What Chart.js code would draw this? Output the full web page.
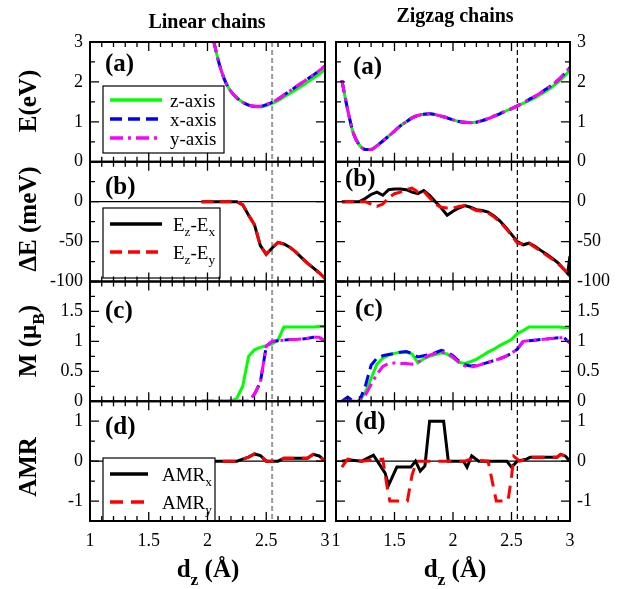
<!DOCTYPE html>
<html>
<head>
<meta charset="utf-8">
<script src="https://cdn.jsdelivr.net/npm/chart.js@4.4.1/dist/chart.umd.min.js"></script>
<style>
  html, body { margin: 0; padding: 0; background: #fff; }
  #wrap { position: relative; width: 618px; height: 589px; }
  #wrap canvas { position: absolute; left: 0; top: 0; }
</style>
</head>
<body>
<div id="wrap">
  <canvas id="linearChart" width="618" height="589"></canvas>
  <canvas id="zigzagChart" width="618" height="589"></canvas>
</div>
<script>
const SERIF = '"Liberation Serif", "DejaVu Serif", serif';

// x axis: d_z in Angstrom
const dTicks = [1, 1.5, 2, 2.5, 3];
const dMarker = 2.55;

// y axis tick labels per row
const eTicks = [0, 1, 2, 3];
const deTicks = [-100, -50, 0];
const mTicks = [0, 0.5, 1, 1.5];
const amrTicks = [-1, 0, 1];

// ---- Linear chains ----
const linE_d = [2.05, 2.1, 2.15, 2.2, 2.25, 2.3, 2.35, 2.4, 2.45, 2.5, 2.55, 2.6, 2.65, 2.7, 2.75, 2.8, 2.85, 2.9, 2.95, 3.0];
const linE_z = [3.05, 2.45, 2.02, 1.76, 1.60, 1.49, 1.42, 1.38, 1.37, 1.41, 1.46, 1.53, 1.62, 1.71, 1.80, 1.89, 1.99, 2.09, 2.19, 2.30];
const linE_x = [3.05, 2.45, 2.02, 1.76, 1.60, 1.49, 1.42, 1.39, 1.39, 1.43, 1.49, 1.57, 1.67, 1.77, 1.87, 1.97, 2.07, 2.17, 2.28, 2.40];
const linE_y = [3.05, 2.45, 2.02, 1.76, 1.60, 1.49, 1.42, 1.39, 1.39, 1.43, 1.49, 1.57, 1.67, 1.77, 1.87, 1.97, 2.07, 2.17, 2.28, 2.40];

const linD = [1.95, 2.0, 2.05, 2.1, 2.15, 2.2, 2.25, 2.3, 2.35, 2.4, 2.45, 2.5, 2.55, 2.6, 2.65, 2.7, 2.75, 2.8, 2.85, 2.9, 2.95, 3.0];
const linDE_zx = [0, 0, 0, 0, 0, 0, 0, -4, -17, -29, -55, -66, -58, -51, -53, -57, -63, -70, -77, -83, -89, -96];
const linDE_zy = [0, 0, 0, 0, 0, 0, 0, -4, -17, -29, -55, -66, -58, -51, -53, -57, -63, -70, -77, -83, -89, -96];
const linM_z = [0, 0, 0, 0, 0, 0, 0.05, 0.25, 0.75, 0.86, 0.90, 0.93, 0.96, 1.02, 1.24, 1.24, 1.24, 1.24, 1.24, 1.24, 1.25, 1.25];
const linM_x = [0, 0, 0, 0, 0, 0, 0, 0, 0, 0.12, 0.32, 0.92, 1.00, 1.01, 1.02, 1.03, 1.03, 1.04, 1.05, 1.07, 1.07, 1.00];
const linM_y = [0, 0, 0, 0, 0, 0, 0, 0, 0, 0.12, 0.32, 0.92, 1.00, 1.01, 1.02, 1.03, 1.03, 1.04, 1.05, 1.07, 1.07, 1.00];
const linAMR_x = [0, 0, 0, 0, 0, 0, 0, 0.05, 0.10, 0.18, 0.14, 0, 0, 0, 0.07, 0.07, 0.07, 0.07, 0.07, 0.17, 0.13, 0];
const linAMR_y = [0, 0, 0, 0, 0, 0, 0, 0.05, 0.10, 0.18, 0.14, 0, 0, 0, 0.07, 0.07, 0.07, 0.07, 0.07, 0.17, 0.13, 0];

// ---- Zigzag chains ----
const zigD = [1.05, 1.1, 1.15, 1.2, 1.25, 1.3, 1.35, 1.4, 1.45, 1.5, 1.55, 1.6, 1.65, 1.7, 1.75, 1.8, 1.85, 1.9, 1.95, 2.0,
              2.05, 2.1, 2.15, 2.2, 2.25, 2.3, 2.35, 2.4, 2.45, 2.5, 2.55, 2.6, 2.65, 2.7, 2.75, 2.8, 2.85, 2.9, 2.95, 3.0];
const zigE_z = [2.04, 1.30, 0.70, 0.42, 0.31, 0.31, 0.40, 0.52, 0.64, 0.77, 0.90, 1.00, 1.10, 1.16, 1.19, 1.20, 1.18, 1.14, 1.10, 1.05,
                1.01, 0.99, 0.98, 0.99, 1.03, 1.08, 1.14, 1.20, 1.27, 1.33, 1.40, 1.46, 1.53, 1.60, 1.69, 1.78, 1.88, 2.00, 2.14, 2.29];
const zigE_x = [2.04, 1.30, 0.70, 0.42, 0.31, 0.31, 0.40, 0.52, 0.64, 0.77, 0.90, 1.00, 1.10, 1.16, 1.19, 1.20, 1.18, 1.14, 1.10, 1.05,
                1.01, 0.99, 0.98, 0.99, 1.03, 1.08, 1.14, 1.20, 1.27, 1.33, 1.40, 1.48, 1.56, 1.64, 1.73, 1.83, 1.93, 2.05, 2.20, 2.36];
const zigE_y = zigE_x.slice();

const zigDE_dx = [1.05, 1.1, 1.15, 1.2, 1.25, 1.3, 1.35, 1.4, 1.45, 1.5, 1.55, 1.6, 1.65, 1.7, 1.75, 1.8, 1.85, 1.9, 1.95, 2.0,
                  2.05, 2.1, 2.15, 2.2, 2.25, 2.3, 2.35, 2.4, 2.45, 2.5, 2.55, 2.6, 2.65, 2.7, 2.75, 2.8, 2.85, 2.9, 2.95, 2.98, 3.0];
const zigDE_zx = [0, 0, 0, 0, 4, 9, 12, 8, 15, 16, 16, 15, 12, 10, 14, 8, 0, -8, -17, -12,
                  -8, -5, -7, -10, -11, -13, -18, -24, -32, -41, -50, -54, -52, -56, -61, -66, -71, -77, -85, -90, -68];
const zigDE_zy = [0, 0, 0, 0, 0, -3, -6, -3, 5, 10, 12, 15, 17, 12, 13, 5, -3, -7, -8, -8,
                  -6, -5, -8, -11, -12, -14, -19, -25, -33, -42, -52, -53, -52, -57, -62, -67, -72, -78, -85, -92];

const zigM_z = [0, 0, 0, 0, 0.15, 0.38, 0.62, 0.72, 0.77, 0.80, 0.82, 0.82, 0.79, 0.64, 0.71, 0.75, 0.78, 0.81, 0.79, 0.72,
                0.65, 0.63, 0.66, 0.70, 0.76, 0.82, 0.87, 0.93, 0.98, 1.03, 1.13, 1.18, 1.24, 1.24, 1.24, 1.24, 1.24, 1.24, 1.23, 1.23];
const zigM_x = [0, 0.07, 0, 0, 0.25, 0.60, 0.72, 0.76, 0.78, 0.80, 0.82, 0.83, 0.80, 0.74, 0.76, 0.78, 0.81, 0.85, 0.82, 0.76,
                0.67, 0.61, 0.59, 0.60, 0.62, 0.65, 0.68, 0.71, 0.75, 0.80, 0.87, 1.00, 1.01, 1.02, 1.03, 1.04, 1.05, 1.06, 1.06, 0.97];
const zigM_y = [0, 0, 0, 0, 0.10, 0.28, 0.45, 0.58, 0.63, 0.64, 0.63, 0.63, 0.62, 0.65, 0.72, 0.77, 0.80, 0.82, 0.80, 0.74,
                0.65, 0.59, 0.57, 0.59, 0.62, 0.65, 0.68, 0.71, 0.75, 0.80, 0.87, 1.00, 1.01, 1.02, 1.03, 1.04, 1.05, 1.06, 1.06, 0.97];

const zigAMR_dx = [1.05, 1.12, 1.22, 1.32, 1.38, 1.42, 1.45, 1.52, 1.64, 1.68, 1.72, 1.76, 1.8, 1.92, 1.96, 2.09, 2.12, 2.16, 2.22, 2.46, 2.5, 2.55, 2.63, 2.66, 2.89, 2.92, 2.96, 3.0];
const zigAMR_x = [0, 0.03, 0, 0.15, -0.12, -0.3, -0.6, -0.15, -0.15, 0, -0.25, -0.12, 1.0, 1.0, 0, 0, -0.15, 0.13, 0, 0, -0.15, 0, 0.05, 0.1, 0.1, 0.17, 0.13, 0];
const zigAMR_dy = [1.05, 1.1, 1.22, 1.4, 1.44, 1.46, 1.61, 1.65, 1.69, 2.1, 2.14, 2.3, 2.37, 2.47, 2.5, 2.52, 2.57, 2.63, 2.66, 2.89, 2.92, 2.96, 3.0];
const zigAMR_y = [-0.15, 0.05, 0, 0.05, -0.7, -1.0, -1.0, -0.35, 0, 0, 0.04, 0, -1.0, -1.0, -0.4, 0.12, 0, 0.05, 0.1, 0.1, 0.17, 0.13, 0];

// row scales: id, range, labelled ticks, major / minor tick steps
const rows = [
    { id: 'yE',   min: 0,    max: 3,   labels: eTicks,   major: 1,   minor: 0.5 },
    { id: 'yDE',  min: -100, max: 50,  labels: deTicks,  major: 50,  minor: 25 },
    { id: 'yM',   min: 0,    max: 2,   labels: mTicks,   major: 0.5, minor: 0.25 },
    { id: 'yAMR', min: -1.5, max: 1.5, labels: amrTicks, major: 1,   minor: 0.5 }
];

const GREEN = '#00ff00', BLUE = '#0000ff', MAGENTA = '#ff00ff', RED = '#ff0000', BLACK = '#000000';
const DASH = [12, 6], DASHDOT = [13, 5, 3, 5], AMRDASH = [13, 8];

function series(xs, ys, axis, color, dash, order, smooth) {
    return {
        data: xs.map((x, i) => ({ x: x, y: ys[i] })),
        yAxisID: axis,
        borderColor: color,
        borderWidth: 3,
        borderDash: dash || [],
        pointRadius: 0,
        fill: false,
        tension: 0,
        cubicInterpolationMode: smooth ? 'monotone' : 'default',
        order: order
    };
}

function richWidth(ctx, parts, size, bold) {
    let w = 0;
    parts.forEach(p => {
        ctx.font = (bold ? 'bold ' : '') + (p[1] ? size * 0.7 : size) + 'px ' + SERIF;
        w += ctx.measureText(p[0]).width;
    });
    return w;
}

function drawRich(ctx, parts, x, y, size, bold, center) {
    let cx = center ? x - richWidth(ctx, parts, size, bold) / 2 : x;
    ctx.textAlign = 'left';
    ctx.textBaseline = 'alphabetic';
    parts.forEach(p => {
        ctx.font = (bold ? 'bold ' : '') + (p[1] ? size * 0.7 : size) + 'px ' + SERIF;
        ctx.fillText(p[0], cx, p[1] ? y + size * 0.3 : y);
        cx += ctx.measureText(p[0]).width;
    });
}

function drawLegend(ctx, lg) {
    ctx.save();
    ctx.fillStyle = '#fff';
    ctx.fillRect(lg.box[0], lg.box[1], lg.box[2], lg.box[3]);
    ctx.strokeStyle = '#000';
    ctx.lineWidth = 1.2;
    ctx.strokeRect(lg.box[0], lg.box[1], lg.box[2], lg.box[3]);
    lg.items.forEach(it => {
        ctx.strokeStyle = it.color;
        ctx.lineWidth = 3.5;
        ctx.setLineDash(it.dash);
        ctx.beginPath();
        ctx.moveTo(lg.x0, it.y);
        ctx.lineTo(lg.x1, it.y);
        ctx.stroke();
        ctx.setLineDash([]);
        ctx.fillStyle = '#000';
        drawRich(ctx, it.parts, lg.tx, it.y + 6.5, 19, false, false);
    });
    ctx.restore();
}

function makeDecor(cfg) {
    return {
        id: 'decor',
        beforeDatasetsDraw(chart) {
            const { ctx, chartArea: a, scales } = chart;
            ctx.save();
            ctx.strokeStyle = '#000';
            ctx.lineWidth = 1.3;
            ['yDE', 'yAMR'].forEach(id => {
                const y = scales[id].getPixelForValue(0);
                ctx.beginPath();
                ctx.moveTo(a.left, y);
                ctx.lineTo(a.right, y);
                ctx.stroke();
            });
            const xm = scales.x.getPixelForValue(dMarker);
            ctx.strokeStyle = cfg.markColor;
            ctx.lineWidth = cfg.markWidth;
            ctx.setLineDash([5, 3]);
            ctx.beginPath();
            ctx.moveTo(xm, a.top);
            ctx.lineTo(xm, a.bottom);
            ctx.stroke();
            ctx.restore();
        },
        afterDatasetsDraw(chart) {
            const { ctx, chartArea: a, scales } = chart;
            ctx.save();
            cfg.legends.forEach(lg => drawLegend(ctx, lg));

            // frames with inward ticks on all four sides
            ctx.strokeStyle = '#000';
            rows.forEach(r => {
                const s = scales[r.id];
                ctx.lineWidth = 1.3;
                ctx.beginPath();
                for (let k = 0; k <= 20; k++) {
                    const px = scales.x.getPixelForValue(1 + k * 0.1);
                    const len = k % 5 === 0 ? 9 : 5;
                    ctx.moveTo(px, s.top); ctx.lineTo(px, s.top + len);
                    ctx.moveTo(px, s.bottom); ctx.lineTo(px, s.bottom - len);
                }
                const n = Math.round((r.max - r.min) / r.minor);
                for (let k = 0; k <= n; k++) {
                    const v = r.min + k * r.minor;
                    const q = v / r.major;
                    const len = Math.abs(q - Math.round(q)) < 1e-6 ? 9 : 5;
                    const py = s.getPixelForValue(v);
                    ctx.moveTo(a.left, py); ctx.lineTo(a.left + len, py);
                    ctx.moveTo(a.right, py); ctx.lineTo(a.right - len, py);
                }
                ctx.stroke();
                ctx.lineWidth = 2;
                ctx.strokeRect(a.left, s.top, a.right - a.left, s.bottom - s.top);
            });

            // panel labels
            ctx.fillStyle = '#000';
            ctx.textAlign = 'left';
            ctx.textBaseline = 'alphabetic';
            ctx.font = 'bold 25px ' + SERIF;
            cfg.panelLabels.forEach(p => ctx.fillText(p[0], p[1], p[2]));
            ctx.restore();
        },
        afterDraw(chart) {
            const { ctx } = chart;
            ctx.save();
            ctx.fillStyle = '#000';
            ctx.textAlign = 'center';
            ctx.textBaseline = 'alphabetic';
            ctx.font = 'bold 20px ' + SERIF;
            ctx.fillText(cfg.title[0], cfg.title[1], cfg.title[2]);
            drawRich(ctx, [['d'], ['z', true], [' (\u00c5)']], cfg.xTitleX, 577, 25, true, true);
            (cfg.yTitles || []).forEach(t => {
                ctx.save();
                ctx.translate(t[1], t[2]);
                ctx.rotate(-Math.PI / 2);
                drawRich(ctx, t[0], 0, 9, 25, true, true);
                ctx.restore();
            });
            ctx.restore();
        }
    };
}

function yScale(r, pos) {
    return {
        type: 'linear',
        position: pos,
        stack: 'col',
        stackWeight: 1,
        min: r.min,
        max: r.max,
        grid: { display: false, drawTicks: false },
        border: { display: false },
        afterBuildTicks: s => { s.ticks = r.labels.map(v => ({ value: v })); },
        afterFit: s => { s.width = pos === 'left' ? 90 : 48; },
        ticks: { color: '#000', padding: 7, autoSkip: false, font: { family: SERIF, size: 18 },
                 callback: v => String(v) }
    };
}

function xScale() {
    return {
        type: 'linear',
        min: 1,
        max: 3,
        grid: { display: false, drawTicks: false },
        border: { display: false },
        afterBuildTicks: s => { s.ticks = dTicks.map(v => ({ value: v })); },
        afterFit: s => { s.height = 68; },
        ticks: { color: '#000', padding: 9, autoSkip: false, maxRotation: 0, font: { family: SERIF, size: 18 },
                 callback: v => String(v) }
    };
}

function baseOptions(padding, scales) {
    return {
        responsive: false,
        animation: false,
        devicePixelRatio: 1,
        events: [],
        layout: { padding: padding },
        plugins: { legend: { display: false }, tooltip: { enabled: false }, title: { display: false } },
        scales: scales
    };
}

// Linear chains (left column)
const linearScales = { x: xScale() };
// left-stacked axes are placed top-down from the last one defined
[3, 2, 1, 0].forEach(i => { linearScales[rows[i].id] = yScale(rows[i], 'left'); });

new Chart(document.getElementById('linearChart'), {
    type: 'line',
    data: {
        datasets: [
            series(linE_d, linE_y, 'yE', MAGENTA, DASHDOT, 1, true),
            series(linE_d, linE_x, 'yE', BLUE, DASH, 2, true),
            series(linE_d, linE_z, 'yE', GREEN, [], 3, true),
            series(linD, linDE_zy, 'yDE', RED, DASH, 1),
            series(linD, linDE_zx, 'yDE', BLACK, [], 2),
            series(linD, linM_y, 'yM', MAGENTA, DASHDOT, 1),
            series(linD, linM_x, 'yM', BLUE, DASH, 2),
            series(linD, linM_z, 'yM', GREEN, [], 3),
            series(linD, linAMR_y, 'yAMR', RED, AMRDASH, 1),
            series(linD, linAMR_x, 'yAMR', BLACK, [], 2)
        ]
    },
    options: baseOptions({ left: 0, top: 42, right: 293, bottom: 0 }, linearScales),
    plugins: [makeDecor({
        markColor: '#9a9a9a',
        markWidth: 2,
        title: ['Linear chains', 207, 28],
        xTitleX: 208,
        panelLabels: [['(a)', 105, 71], ['(b)', 105, 194], ['(c)', 105, 318], ['(d)', 105, 434]],
        yTitles: [
            [[['E(eV)']], 27, 101],
            [[['\u0394E (meV)']], 27, 219],
            [[['M ('], ['\u03bc'], ['B', true], [')']], 27, 341],
            [[['AMR']], 27, 467]
        ],
        legends: [
            { box: [103, 86, 121, 67], x0: 110, x1: 162, tx: 170, items: [
                { y: 100, color: GREEN, dash: [], parts: [['z-axis']] },
                { y: 119, color: BLUE, dash: DASH, parts: [['x-axis']] },
                { y: 138, color: MAGENTA, dash: DASHDOT, parts: [['y-axis']] }
            ] },
            { box: [103, 208, 117, 70], x0: 110, x1: 162, tx: 173, items: [
                { y: 224, color: BLACK, dash: [], parts: [['E'], ['z', true], ['-E'], ['x', true]] },
                { y: 252, color: RED, dash: DASH, parts: [['E'], ['z', true], ['-E'], ['y', true]] }
            ] },
            { box: [103, 458, 112, 63], x0: 110, x1: 148, tx: 162, items: [
                { y: 474, color: BLACK, dash: [], parts: [['AMR'], ['x', true]] },
                { y: 502, color: RED, dash: AMRDASH, parts: [['AMR'], ['y', true]] }
            ] }
        ]
    })]
});

// Zigzag chains (right column)
const zigzagScales = { x: xScale() };
// right-stacked axes are placed top-down from the first one defined
[0, 1, 2, 3].forEach(i => { zigzagScales[rows[i].id] = yScale(rows[i], 'right'); });

new Chart(document.getElementById('zigzagChart'), {
    type: 'line',
    data: {
        datasets: [
            series(zigD, zigE_y, 'yE', MAGENTA, DASHDOT, 1, true),
            series(zigD, zigE_x, 'yE', BLUE, DASH, 2, true),
            series(zigD, zigE_z, 'yE', GREEN, [], 3, true),
            series(zigD, zigDE_zy, 'yDE', RED, DASH, 1),
            series(zigDE_dx, zigDE_zx, 'yDE', BLACK, [], 2),
            series(zigD, zigM_y, 'yM', MAGENTA, DASHDOT, 1),
            series(zigD, zigM_x, 'yM', BLUE, DASH, 2),
            series(zigD, zigM_z, 'yM', GREEN, [], 3),
            series(zigAMR_dy, zigAMR_y, 'yAMR', RED, AMRDASH, 1),
            series(zigAMR_dx, zigAMR_x, 'yAMR', BLACK, [], 2)
        ]
    },
    options: baseOptions({ left: 336, top: 42, right: 0, bottom: 0 }, zigzagScales),
    plugins: [makeDecor({
        markColor: '#000',
        markWidth: 1.2,
        title: ['Zigzag chains', 455, 22],
        xTitleX: 455,
        panelLabels: [['(a)', 353, 74], ['(b)', 345, 186], ['(c)', 355, 316], ['(d)', 355, 429]],
        legends: []
    })]
});
</script>
</body>
</html>
